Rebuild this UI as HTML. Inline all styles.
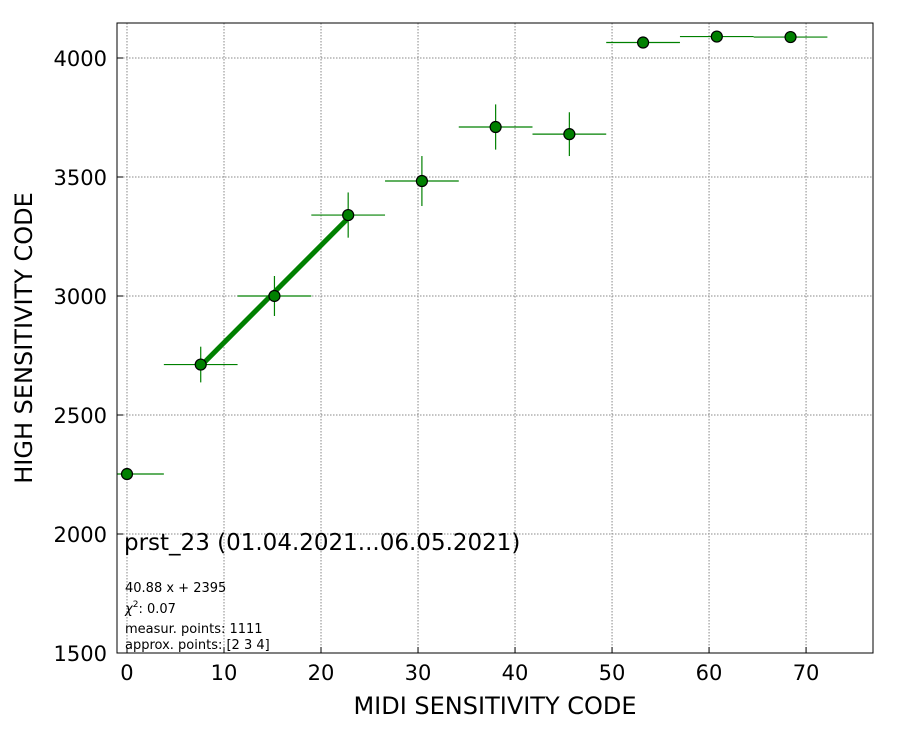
<!DOCTYPE html>
<html><head><meta charset="utf-8"><style>
body{margin:0;background:#fff;}
svg text{font-family:"DejaVu Sans","Liberation Sans",sans-serif;fill:#000;}
</style></head><body>
<svg id="chart" width="900" height="750" xmlns="http://www.w3.org/2000/svg">
<defs><clipPath id="plotclip"><rect x="117" y="23" width="756" height="630"/></clipPath></defs>
<rect width="900" height="750" fill="#fff"/>
<g id="grid"></g>
<g id="ticks"></g>
<g clip-path="url(#plotclip)">
<line id="fit" stroke="#008000" stroke-width="5"/>
<g id="points"></g>
</g>
<rect x="117" y="23" width="756" height="630" fill="none" stroke="#000" stroke-width="1"/>
<text x="124" y="550" font-size="23">prst_23 (01.04.2021...06.05.2021)</text>
<text x="125" y="592" font-size="13">40.88 x + 2395</text>
<text x="125" y="613" font-size="13"><tspan font-style="italic">χ</tspan><tspan font-size="9" dy="-6">2</tspan><tspan dy="6">: 0.07</tspan></text>
<text x="125" y="633" font-size="13">measur. points: 1111</text>
<text x="125" y="649" font-size="13">approx. points: [2 3 4]</text>
<text x="495" y="714" font-size="24" text-anchor="middle">MIDI SENSITIVITY CODE</text>
<text transform="translate(32,338) rotate(-90)" font-size="24" text-anchor="middle">HIGH SENSITIVITY CODE</text>
</svg>
<script>
const xs=[0,7.6,15.2,22.8,30.4,38,45.6,53.2,60.8,68.4];
const ys=[2252,2712,3000,3340,3483,3710,3680,4065,4090,4088];
const xerr=[3.8,3.8,3.8,3.8,3.8,3.8,3.8,3.8,3.8,3.8];
const yerr=[0,75,84,95,105,95,92,0,0,0];
const xTicks=[0,10,20,30,40,50,60,70];
const yTicks=[1500,2000,2500,3000,3500,4000];
const fitSlope=40.88, fitIntercept=2395;
const fitRange=[7.6,22.8];
const X0=117,X1=873,Y0=653,Y1=23;
const xmin=-1.03,xmax=76.9,ymin=1500,ymax=4147;
const sx=v=>X0+(v-xmin)/(xmax-xmin)*(X1-X0);
const sy=v=>Y0-(v-ymin)/(ymax-ymin)*(Y0-Y1);
const NS="http://www.w3.org/2000/svg";
function mk(tag,attrs,parent){const e=document.createElementNS(NS,tag);for(const k in attrs)e.setAttribute(k,attrs[k]);parent.appendChild(e);return e;}
const grid=document.getElementById('grid'),ticks=document.getElementById('ticks'),pts=document.getElementById('points');
xTicks.forEach(t=>{const x=sx(t);
 const g=mk('line',{x1:x,x2:x,y1:Y1,y2:Y0,stroke:'#888','stroke-dasharray':'1.5,1.5','stroke-width':1},grid);
 
 
 const tk=mk('line',{x1:x,x2:x,y1:Y0,y2:Y0-6,stroke:'#000'},ticks);
 
 
 const tx=mk('text',{x:x,y:Y0+27,'font-size':21,'text-anchor':'middle'},ticks);tx.textContent=t;
 
 
});
yTicks.forEach(t=>{const y=sy(t);
 const g=mk('line',{x1:X0,x2:X1,y1:y,y2:y,stroke:'#888','stroke-dasharray':'1.5,1.5','stroke-width':1},grid);
 
 
 const tk=mk('line',{x1:X0,x2:X0+6,y1:y,y2:y,stroke:'#000'},ticks);
 
 
 const tx=mk('text',{x:X0-10,y:y+8,'font-size':21,'text-anchor':'end'},ticks);tx.textContent=t;
 
 
});
const fit=document.getElementById('fit');
fit.setAttribute('x1',sx(fitRange[0]));fit.setAttribute('y1',sy(fitSlope*fitRange[0]+fitIntercept));
fit.setAttribute('x2',sx(fitRange[1]));fit.setAttribute('y2',sy(fitSlope*fitRange[1]+fitIntercept));
xs.forEach((v,i)=>{const x=sx(v),y=sy(ys[i]);
 const h=mk('line',{x1:sx(v-xerr[i]),x2:sx(v+xerr[i]),y1:y,y2:y,stroke:'#008000','stroke-width':1.2},pts);
 
 
 if(yerr[i]>0){const ve=mk('line',{x1:x,x2:x,y1:sy(ys[i]-yerr[i]),y2:sy(ys[i]+yerr[i]),stroke:'#008000','stroke-width':1.2},pts);
 
 }
 const c=mk('circle',{cx:x,cy:y,r:5.5,fill:'#008000',stroke:'#000','stroke-width':1.2},pts);
 
 
});
</script>
</body></html>
